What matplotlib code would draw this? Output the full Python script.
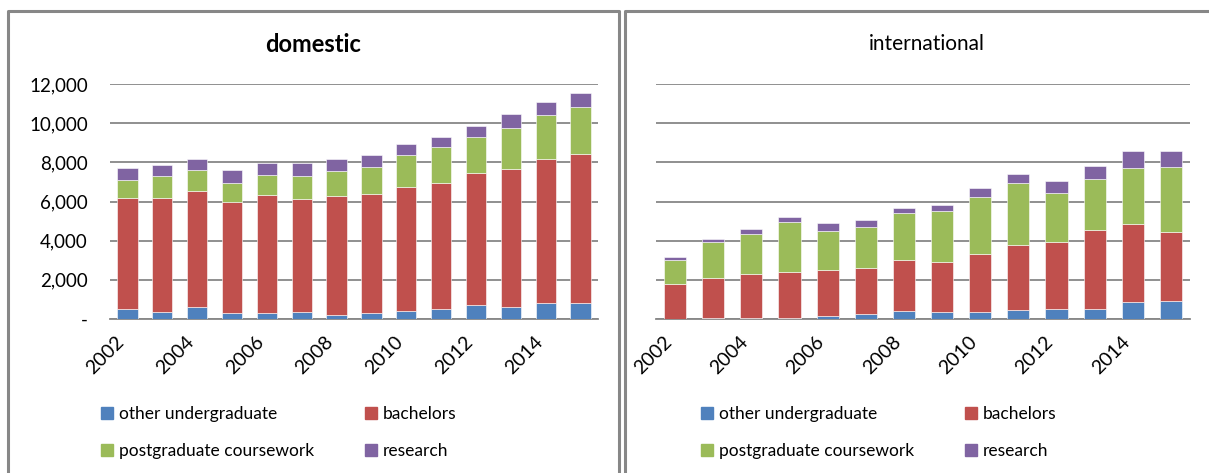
from matplotlib import pyplot as plt
from matplotlib.lines import Line2D
from matplotlib.patches import Patch
import numpy as np

# Dados (numero de estudantes por ano)
anos = list(range(2002, 2016))
series = ["other undergraduate", "bachelors", "postgraduate coursework", "research"]

dom_other = [500, 370, 600, 305, 305, 375, 205, 305, 425, 495, 700, 630, 800, 800]
dom_bachelors = [5700, 5830, 5950, 5685, 6045, 5770, 6095, 6095, 6300, 6465, 6740, 7015, 7370, 7625]
dom_postgrad = [915, 1085, 1040, 970, 985, 1140, 1240, 1345, 1650, 1825, 1870, 2125, 2230, 2385]
dom_research = [595, 565, 580, 630, 630, 680, 630, 630, 560, 525, 560, 700, 665, 730]

int_other = [20, 70, 70, 70, 135, 275, 395, 340, 375, 445, 495, 530, 870, 925]
int_bachelors = [1775, 2000, 2205, 2355, 2345, 2305, 2615, 2565, 2940, 3350, 3455, 4000, 3970, 3500]
int_postgrad = [1215, 1860, 2085, 2515, 2035, 2105, 2390, 2600, 2925, 3130, 2495, 2600, 2870, 3335]
int_research = [150, 170, 220, 275, 375, 360, 275, 325, 425, 475, 580, 680, 855, 805]

CORES = ["#4F81BD", "#C0504D", "#9BBB59", "#8064A2"]
CINZA = "#878787"
W, H = 1209, 473

plt.rcParams["font.family"] = ["Lato", "DejaVu Sans"]
fig = plt.figure(figsize=(W / 100, H / 100), dpi=100)


def px(x0, y0, x1, y1):
    """converte caixa em pixels (topo-esquerda) para fracao da figura"""
    return [x0 / W, 1 - y1 / H, (x1 - x0) / W, (y1 - y0) / H]


def desenha(ax, dados, mostra_y):
    x = np.arange(len(anos))
    base = np.zeros(len(anos))
    for valores, cor in zip(dados, CORES):
        ax.bar(x, valores, 0.58, bottom=base, color=cor, edgecolor="white", linewidth=0.4, zorder=3)
        base = base + np.array(valores)
    ax.set_xlim(-0.5, len(anos) - 0.5)
    ax.set_ylim(0, 12000)
    ax.set_yticks(range(0, 12001, 2000))
    if mostra_y:
        ax.set_yticklabels(["-" if v == 0 else f"{v:,}" for v in range(0, 12001, 2000)], fontsize=13.5)
    else:
        ax.set_yticklabels([])
    ax.set_xticks(x[::2])
    ax.set_xticklabels([str(a) for a in anos[::2]], rotation=45, ha="right", fontsize=14)
    ax.tick_params(length=0, pad=10)
    ax.tick_params(axis="y", pad=16)
    ax.grid(axis="y", color=CINZA, linewidth=1.3, zorder=0)
    for lado in ["left", "right", "top"]:
        ax.spines[lado].set_visible(False)
    ax.spines["bottom"].set_color(CINZA)
    ax.spines["bottom"].set_linewidth(1.3)


ax1 = fig.add_axes(px(110, 84, 598, 319))
desenha(ax1, [dom_other, dom_bachelors, dom_postgrad, dom_research], True)
ax2 = fig.add_axes(px(656, 84, 1190, 319))
desenha(ax2, [int_other, int_bachelors, int_postgrad, int_research], False)

fig.text(313 / W, 1 - 44 / H, "domestic", ha="center", va="center", fontsize=17, fontweight="bold")
fig.text(927 / W, 1 - 44 / H, "international", ha="center", va="center", fontsize=15)

# legenda em duas colunas, ordem por linha
ordem = [0, 2, 1, 3]
handles = [Patch(color=CORES[i]) for i in ordem]
labels = [series[i] for i in ordem]
for ax, x0 in [(ax1, 94), (ax2, 694)]:
    fig.legend(handles, labels, ncol=2, loc="upper left", bbox_to_anchor=(x0 / W, 1 - 399 / H),
               frameon=False, fontsize=12.5, handlelength=0.7, handleheight=0.7, handletextpad=0.35,
               columnspacing=2.9, labelspacing=1.2, borderaxespad=0)

# bordas dos paineis
for xs, ys in [([8, 8, 619, 619], [H, 11, 11, H]), ([625, 625, W], [H, 11, 11])]:
    fig.add_artist(Line2D([x / W for x in xs], [1 - y / H for y in ys], color=CINZA, linewidth=2.2))

fig.savefig("out.png", dpi=100)
